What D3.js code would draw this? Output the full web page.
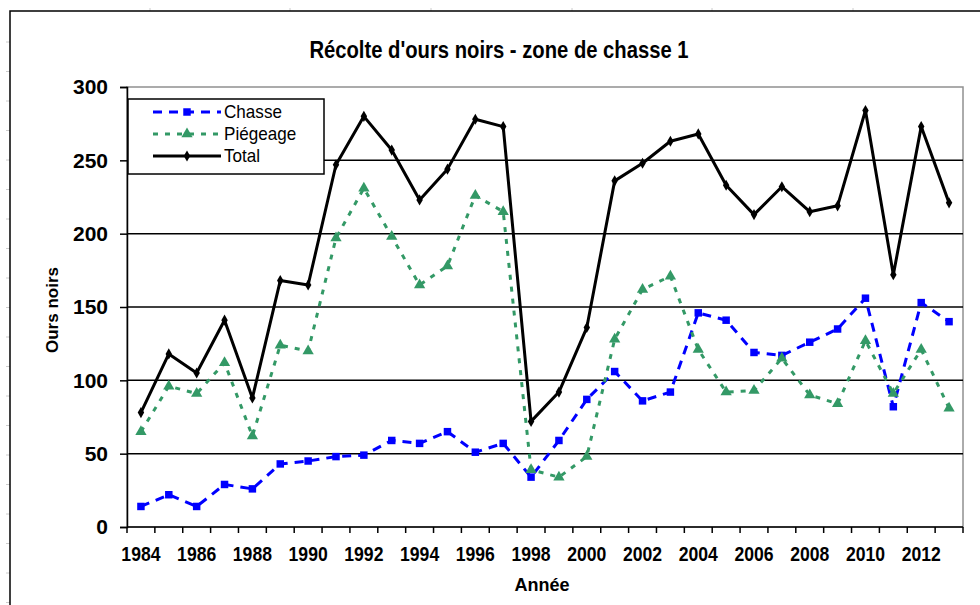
<!DOCTYPE html>
<html>
<head>
<meta charset="utf-8">
<script src="https://cdn.jsdelivr.net/npm/d3@7"></script>
<style>
  body { margin: 0; background: #fff; }
  svg { display: block; font-family: "Liberation Sans", Arial, sans-serif; }
</style>
</head>
<body>
<div id="chart"></div>
<script>
// data
var years = d3.range(1984, 2014);
var chasse = [14,22,14,29,26,43,45,48,49,59,57,65,51,57,34,59,87,106,86,92,146,141,119,117,126,135,156,82,153,140];
var piegeage = [65,96,91,112,62,124,120,197,231,198,165,178,226,215,39,34,48,128,162,171,121,92,93,115,90,84,127,91,121,81];
var total = [78,118,105,141,88,168,165,247,280,257,223,244,278,273,72,92,136,236,248,263,268,233,213,232,215,219,284,172,273,221];
var yTicks = [0,50,100,150,200,250,300];
var xLabels = years.filter(function(d){ return (d - 1984) % 2 == 0; });

var width = 980, height = 605;
var plot = {left: 127, right: 963, top: 87, bottom: 527};

var svg = d3.select("#chart").append("svg")
  .attr("width", width)
  .attr("height", height);

// faint sheet grid marks
[150,290,431,572,712,853].forEach(function(x){
  svg.append("line").attr("x1", x).attr("x2", x).attr("y1", 8).attr("y2", 11)
    .attr("stroke", "#ccc").attr("stroke-width", 1);
});
d3.range(42, 605, 29.5).forEach(function(y){
  svg.append("line").attr("x1", 6).attr("x2", 10).attr("y1", y).attr("y2", y)
    .attr("stroke", "#ccc").attr("stroke-width", 1);
});

// chart area border
svg.append("rect")
  .attr("x", 10).attr("y", 11)
  .attr("width", 1000).attr("height", 700)
  .attr("fill", "none").attr("stroke", "#000").attr("stroke-width", 1.5);

var x = d3.scaleBand().domain(years).range([plot.left, plot.right]).padding(0);
var y = d3.scaleLinear().domain([0, 300]).range([plot.bottom, plot.top]);
var cx = function(i) { return x(years[i]) + x.bandwidth() / 2; };

// plot border (gray)
svg.append("rect")
  .attr("x", plot.left).attr("y", plot.top)
  .attr("width", plot.right - plot.left).attr("height", plot.bottom - plot.top)
  .attr("fill", "#fff").attr("stroke", "#909090").attr("stroke-width", 1.5);

// gridlines
svg.append("g").selectAll("line")
  .data(yTicks.filter(function(d){ return d > 0 && d < 300; }))
  .enter().append("line")
  .attr("x1", plot.left).attr("x2", plot.right)
  .attr("y1", function(d){ return y(d); }).attr("y2", function(d){ return y(d); })
  .attr("stroke", "#000").attr("stroke-width", 1.5);

// y axis
var yAxis = svg.append("g")
  .attr("transform", "translate(" + plot.left + ",0)")
  .call(d3.axisLeft(y).tickValues(yTicks).tickSize(7).tickPadding(12));
yAxis.select(".domain").attr("stroke-width", 1.5);
yAxis.selectAll(".tick line").attr("stroke-width", 1.5);
yAxis.selectAll(".tick text")
  .attr("font-size", 21).attr("font-weight", "bold")
  .attr("font-family", "Liberation Sans, Arial, sans-serif")
  .attr("fill", "#000");

// x axis: ticks between categories
var xAxis = svg.append("g").attr("transform", "translate(0," + plot.bottom + ")");
xAxis.append("line")
  .attr("x1", plot.left).attr("x2", plot.right)
  .attr("stroke", "#000").attr("stroke-width", 1.5);
xAxis.selectAll(".xt")
  .data(years.concat([2014]))
  .enter().append("line")
  .attr("x1", function(d){ return d == 2014 ? plot.right : x(d); })
  .attr("x2", function(d){ return d == 2014 ? plot.right : x(d); })
  .attr("y1", 0).attr("y2", 6)
  .attr("stroke", "#000").attr("stroke-width", 1.5);
xAxis.selectAll(".xl")
  .data(xLabels)
  .enter().append("text")
  .attr("transform", function(d){ return "translate(" + (x(d) + x.bandwidth()/2) + ",34) scale(0.88,1)"; })
  .attr("text-anchor", "middle")
  .attr("font-size", 20).attr("font-weight", "bold")
  .text(function(d){ return d; });

// series
var series = [
  {name: "Chasse", values: chasse, color: "#0000ff", dash: "9,7", width: 3, marker: "square"},
  {name: "Piégeage", values: piegeage, color: "#339966", dash: "5,7", width: 3, marker: "triangle"},
  {name: "Total", values: total, color: "#000000", dash: null, width: 3, marker: "diamond"}
];

var line = d3.line()
  .x(function(d, i){ return cx(i); })
  .y(function(d){ return y(d); });

function markerPath(type) {
  if (type == "square") return d3.symbol(d3.symbolSquare, 56)();
  if (type == "triangle") return d3.symbol(d3.symbolTriangle, 55)();
  return d3.symbol(d3.symbolDiamond, 36)();
}

series.forEach(function(s){
  svg.append("path")
    .datum(s.values)
    .attr("d", line)
    .attr("fill", "none")
    .attr("stroke", s.color)
    .attr("stroke-width", s.width)
    .attr("stroke-dasharray", s.dash)
    .attr("stroke-linejoin", "round");
  svg.append("g").selectAll("path")
    .data(s.values)
    .enter().append("path")
    .attr("d", markerPath(s.marker))
    .attr("transform", function(d, i){ return "translate(" + cx(i) + "," + y(d) + ")"; })
    .attr("fill", s.color);
});

// legend
var legend = svg.append("g");
legend.append("rect")
  .attr("x", 128).attr("y", 99).attr("width", 196).attr("height", 75)
  .attr("fill", "#fff").attr("stroke", "#000").attr("stroke-width", 1.5);
series.forEach(function(s, i){
  var ly = 112 + i * 22;
  legend.append("line")
    .attr("x1", 153).attr("x2", 221).attr("y1", ly).attr("y2", ly)
    .attr("stroke", s.color).attr("stroke-width", s.width)
    .attr("stroke-dasharray", s.dash);
  legend.append("path")
    .attr("d", markerPath(s.marker))
    .attr("transform", "translate(187," + ly + ")")
    .attr("fill", s.color);
  legend.append("text")
    .attr("transform", "translate(224," + (ly + 6) + ") scale(0.95,1)")
    .attr("font-size", 18)
    .text(s.name);
});

// titles
svg.append("text")
  .attr("transform", "translate(499,58) scale(0.88,1)")
  .attr("text-anchor", "middle")
  .attr("font-size", 23).attr("font-weight", "bold")
  .text("Récolte d'ours noirs - zone de chasse 1");

svg.append("text")
  .attr("transform", "translate(542,591) scale(0.95,1)")
  .attr("text-anchor", "middle")
  .attr("font-size", 19).attr("font-weight", "bold")
  .text("Année");

svg.append("text")
  .attr("transform", "translate(58,310) rotate(-90)")
  .attr("text-anchor", "middle")
  .attr("font-size", 17).attr("font-weight", "bold")
  .text("Ours noirs");
</script>
</body>
</html>
